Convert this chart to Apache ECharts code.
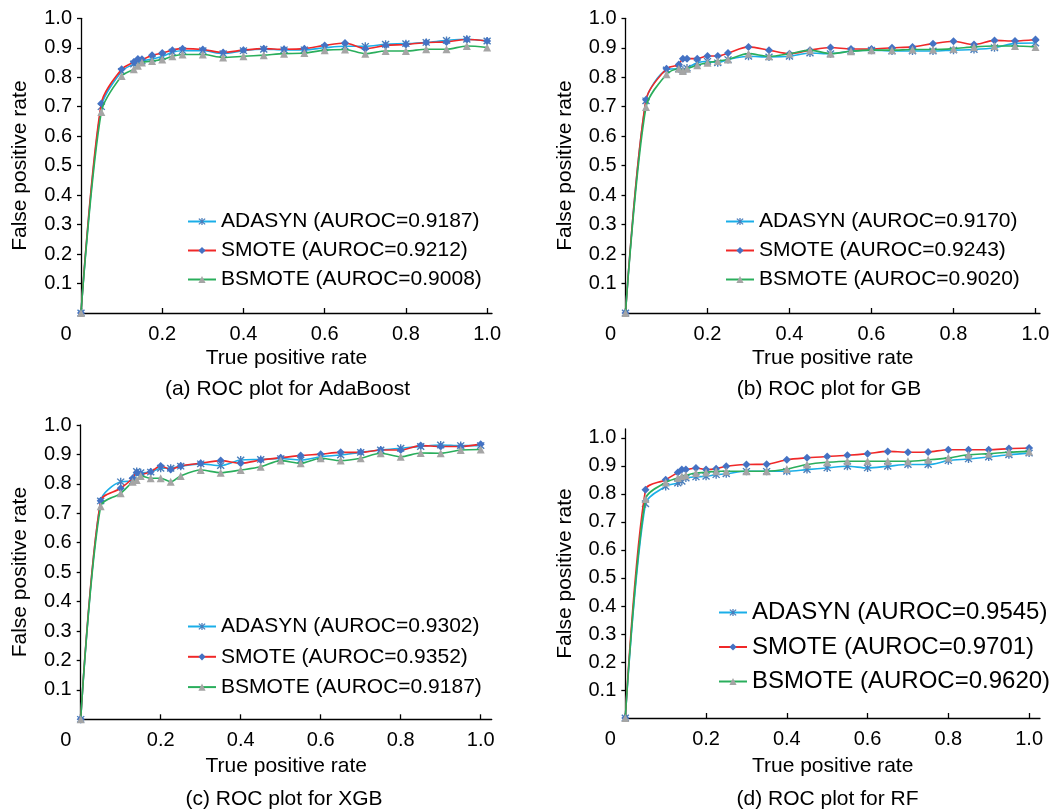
<!DOCTYPE html>
<html>
<head>
<meta charset="utf-8">
<title>ROC plots</title>
<script src="https://cdn.jsdelivr.net/npm/echarts@6/dist/echarts.min.js"></script>
<style>
  html, body { margin: 0; padding: 0; background: #fff; }
  #chart { width: 1054px; height: 812px; }
</style>
</head>
<body>
<div id="chart"></div>
<script>
// shared x positions of the ROC points
var xRate = [0, 0.05, 0.1, 0.13, 0.14, 0.15, 0.175, 0.2, 0.225, 0.25, 0.3, 0.35, 0.4,
  0.45, 0.5, 0.55, 0.6, 0.65, 0.7, 0.75, 0.8, 0.85, 0.9, 0.95, 1.0];

var xTicks = [0, 0.2, 0.4, 0.6, 0.8, 1.0];
var yTicks = [0.1, 0.2, 0.3, 0.4, 0.5, 0.6, 0.7, 0.8, 0.9, 1.0];

var methods = ['ADASYN', 'SMOTE', 'BSMOTE'];
var captions = ['(a) ROC plot for AdaBoost', '(b) ROC plot for GB', '(c) ROC plot for XGB', '(d) ROC plot for RF'];

var aurocAda = ['0.9187', '0.9212', '0.9008'];
var aurocGb = ['0.9170', '0.9243', '0.9020'];
var aurocXgb = ['0.9302', '0.9352', '0.9187'];
var aurocRf = ['0.9545', '0.9701', '0.9620'];

// (a) AdaBoost
var adaAdasyn = [0, 0.700, 0.820, 0.845, 0.850, 0.855, 0.862, 0.870, 0.885, 0.890, 0.890, 0.880, 0.890,
  0.895, 0.893, 0.893, 0.900, 0.905, 0.905, 0.912, 0.914, 0.918, 0.925, 0.929, 0.923];
var adaSmote = [0, 0.711, 0.827, 0.852, 0.862, 0.861, 0.875, 0.882, 0.892, 0.897, 0.894, 0.884, 0.892,
  0.897, 0.895, 0.897, 0.908, 0.916, 0.897, 0.908, 0.911, 0.918, 0.920, 0.928, 0.923];
var adaBsmote = [0, 0.682, 0.804, 0.827, 0.839, 0.850, 0.855, 0.860, 0.871, 0.877, 0.877, 0.867, 0.871,
  0.875, 0.880, 0.882, 0.892, 0.894, 0.880, 0.889, 0.889, 0.895, 0.895, 0.906, 0.901];

// (b) GB
var gbAdasyn = [0, 0.720, 0.825, 0.829, 0.824, 0.831, 0.849, 0.854, 0.849, 0.860, 0.871, 0.869, 0.871,
  0.882, 0.880, 0.889, 0.892, 0.889, 0.889, 0.889, 0.892, 0.894, 0.900, 0.915, 0.916];
var gbSmote = [0, 0.724, 0.829, 0.843, 0.863, 0.863, 0.863, 0.872, 0.872, 0.882, 0.903, 0.892, 0.880,
  0.892, 0.901, 0.896, 0.896, 0.900, 0.903, 0.914, 0.922, 0.911, 0.925, 0.923, 0.928];
var gbBsmote = [0, 0.699, 0.810, 0.829, 0.821, 0.829, 0.841, 0.849, 0.855, 0.860, 0.880, 0.871, 0.880,
  0.892, 0.880, 0.888, 0.892, 0.892, 0.894, 0.894, 0.897, 0.903, 0.906, 0.906, 0.903];

// (c) XGB
var xgbAdasyn = [0, 0.742, 0.807, 0.810, 0.842, 0.838, 0.840, 0.853, 0.853, 0.860, 0.868, 0.862, 0.881,
  0.883, 0.886, 0.881, 0.892, 0.898, 0.907, 0.915, 0.921, 0.927, 0.932, 0.930, 0.930];
var xgbSmote = [0, 0.743, 0.785, 0.819, 0.839, 0.833, 0.841, 0.861, 0.849, 0.861, 0.870, 0.879, 0.870,
  0.881, 0.889, 0.896, 0.901, 0.907, 0.907, 0.915, 0.915, 0.930, 0.927, 0.927, 0.935];
var xgbBsmote = [0, 0.724, 0.768, 0.807, 0.813, 0.827, 0.819, 0.819, 0.807, 0.827, 0.847, 0.838, 0.847,
  0.858, 0.879, 0.870, 0.887, 0.879, 0.887, 0.904, 0.892, 0.905, 0.904, 0.915, 0.917];

// (d) RF
var rfAdasyn = [0, 0.765, 0.827, 0.839, 0.845, 0.857, 0.861, 0.863, 0.869, 0.872, 0.881, 0.881, 0.881,
  0.887, 0.893, 0.899, 0.893, 0.899, 0.905, 0.905, 0.919, 0.925, 0.932, 0.940, 0.946];
var rfSmote = [0, 0.815, 0.851, 0.877, 0.887, 0.887, 0.893, 0.887, 0.890, 0.899, 0.905, 0.906, 0.922,
  0.929, 0.934, 0.938, 0.944, 0.952, 0.949, 0.950, 0.958, 0.958, 0.958, 0.962, 0.964];
var rfBsmote = [0, 0.782, 0.841, 0.857, 0.863, 0.867, 0.875, 0.877, 0.881, 0.881, 0.881, 0.881, 0.889,
  0.905, 0.913, 0.917, 0.917, 0.917, 0.917, 0.922, 0.929, 0.940, 0.944, 0.949, 0.952];

var panelData = [
  [adaAdasyn, adaSmote, adaBsmote],
  [gbAdasyn, gbSmote, gbBsmote],
  [xgbAdasyn, xgbSmote, xgbBsmote],
  [rfAdasyn, rfSmote, rfBsmote]
];
var panelAuroc = [aurocAda, aurocGb, aurocXgb, aurocRf];

// layout of the four plots (pixels)
var layout = [
  { left: 81, top: 18.3, right: 492, bottom: 313, xMax: 1.012, yMax: 1.0, xName: 35, capTop: 378.5, capX: 287.5,
    legLeft: 187, legTop: 211, legFont: 21, legGap: 8 },
  { left: 625.5, top: 18.3, right: 1040, bottom: 313, xMax: 1.011, yMax: 1.0, xName: 35, capTop: 378.5, capX: 829,
    legLeft: 725, legTop: 211, legFont: 21, legGap: 8 },
  { left: 80.7, top: 425, right: 491.7, bottom: 719.3, xMax: 1.0275, yMax: 1.0, xName: 36, capTop: 788.5, capX: 284,
    legLeft: 187, legTop: 616, legFont: 21, legGap: 9.3 },
  { left: 625.3, top: 429, right: 1040, bottom: 718, xMax: 1.027, yMax: 1.032, xName: 37.5, capTop: 788.5, capX: 827.5,
    legLeft: 718, legTop: 600.5, legFont: 24, legGap: 10.5 }
];

var FONT = '"Liberation Sans", Arial, sans-serif';
var starPath = 'path://M4.2,0H5.8V10H4.2Z M1.57,0.43L9.57,8.43L8.43,9.57L0.43,1.57Z M9.57,1.57L1.57,9.57L0.43,8.43L8.43,0.43Z';
var lineColors = ['#1aaee8', '#f02828', '#2aae5c'];
var markColors = ['#4a7ebb', '#4472c4', '#a5a5a5'];
var markSymbols = [starPath, 'diamond', 'triangle'];
var markSizes = [8, 8, 8];

var grids = [], xAxes = [], yAxes = [], series = [], legends = [], titles = [];

layout.forEach(function (p, i) {
  grids.push({
    left: p.left, top: p.top, width: p.right - p.left, height: p.bottom - p.top,
    containLabel: false, outerBoundsMode: 'none'
  });
  xAxes.push({
    type: 'value', gridIndex: i, min: 0, max: p.xMax, interval: 0.2,
    name: 'True positive rate', nameLocation: 'middle', nameGap: p.xName,
    nameTextStyle: { fontFamily: FONT, fontSize: 21, color: '#000' },
    axisLine: { lineStyle: { color: '#000', width: 1.3 } },
    axisTick: { inside: true, length: 5, lineStyle: { color: '#000', width: 1.3 }, customValues: xTicks },
    axisLabel: {
      customValues: xTicks, margin: 11, fontFamily: FONT, fontSize: 20, color: '#000',
      formatter: function (v) { return v === 0 ? '{z|0}' : v.toFixed(1); },
      rich: { z: { fontFamily: FONT, fontSize: 20, color: '#000', padding: [0, 30, 0, 0] } }
    },
    splitLine: { show: false }
  });
  yAxes.push({
    type: 'value', gridIndex: i, min: 0, max: p.yMax, interval: 0.1,
    name: 'False positive rate', nameLocation: 'middle', nameGap: 50,
    nameTextStyle: { fontFamily: FONT, fontSize: 21, color: '#000' },
    axisLine: { show: true, lineStyle: { color: '#000', width: 1.3 } },
    axisTick: { show: true, length: 4, lineStyle: { color: '#000', width: 1.3 }, customValues: yTicks },
    axisLabel: {
      customValues: yTicks, margin: 9, fontFamily: FONT, fontSize: 20, color: '#000',
      formatter: function (v) { return v.toFixed(1); }
    },
    splitLine: { show: false }
  });

  var names = [];
  methods.forEach(function (m, k) {
    var name = m + ' (AUROC=' + panelAuroc[i][k] + ')';
    names.push(name);
    series.push({
      name: name, type: 'line', xAxisIndex: i, yAxisIndex: i,
      data: xRate.map(function (x, j) { return [x, panelData[i][k][j]]; }),
      smooth: 0.3,
      symbol: markSymbols[k], symbolSize: markSizes[k],
      itemStyle: { color: markColors[k] },
      lineStyle: { color: lineColors[k], width: 1.6 },
      z: 2 + k
    });
  });

  legends.push({
    data: names, orient: 'vertical', left: p.legLeft, top: p.legTop,
    itemWidth: 28, itemHeight: 9, itemGap: p.legGap,
    textStyle: { fontFamily: FONT, fontSize: p.legFont, lineHeight: p.legFont, color: '#000' },
    padding: 0, selectedMode: false
  });

  titles.push({
    text: captions[i], left: p.capX, top: p.capTop, textAlign: 'center', padding: 0,
    textStyle: { fontFamily: FONT, fontSize: 21, fontWeight: 'normal', color: '#000' }
  });
});

var chart = echarts.init(document.getElementById('chart'), null, { renderer: 'canvas' });
chart.setOption({
  backgroundColor: '#fff',
  animation: false,
  title: titles,
  grid: grids,
  xAxis: xAxes,
  yAxis: yAxes,
  legend: legends,
  series: series
});
</script>
</body>
</html>
